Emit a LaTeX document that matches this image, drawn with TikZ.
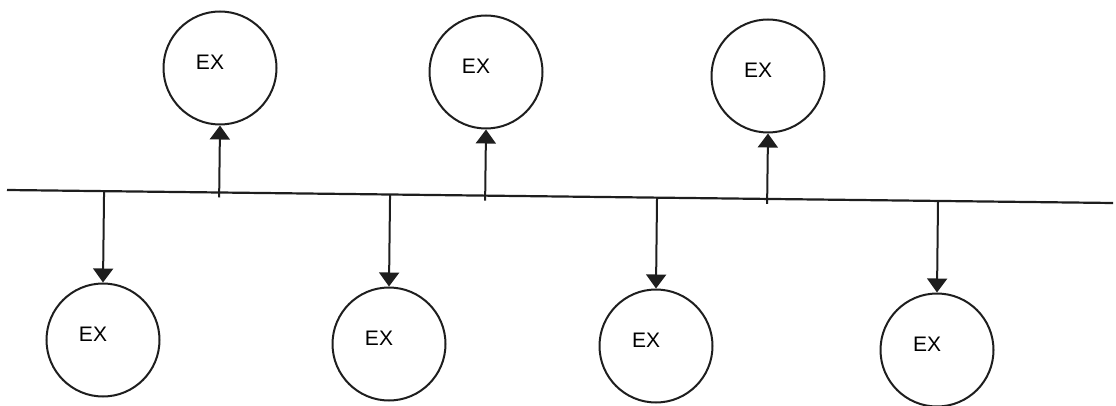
\documentclass[tikz,border=0pt]{standalone}
\usepackage{fontspec}
\setmainfont{Liberation Sans}
\usetikzlibrary{arrows.meta,positioning,calc}
\definecolor{inkdark}{RGB}{30,30,30}

\begin{document}
\begin{tikzpicture}[x=1pt,y=-1pt,font=\fontsize{21}{24}\selectfont,
 ex/.style={circle,draw=inkdark,line width=2pt,minimum size=113pt,inner sep=0pt,
  label={[xshift=-10pt,yshift=6pt,inner sep=0pt]center:EX}},
 bus/.style={draw=inkdark,line width=2.2pt},
 arr/.style={-{Triangle[length=14pt,width=20pt]},line width=2pt,draw=inkdark}]
\useasboundingbox (0,0) rectangle (1116,406);
\coordinate (busL) at (7,190);
\coordinate (busR) at (1113,203);
\draw[bus] (busL)--(busR);
\node[ex] (up1) at (220,68) {};
\node[ex] (up2) at (486,72) {};
\node[ex] (up3) at (768,76) {};
\node[ex] (down1) at (103,340) {};
\node[ex] (down2) at (389,344) {};
\node[ex] (down3) at (656,346) {};
\node[ex] (down4) at (937,350) {};
\draw[arr,shorten <=-5pt] ($(busL)!(up1.south)!(busR)$)--(up1.south);
\draw[arr,shorten <=-5pt] ($(busL)!(up2.south)!(busR)$)--(up2.south);
\draw[arr,shorten <=-5pt] ($(busL)!(up3.south)!(busR)$)--(up3.south);
\draw[arr] ($(busL)!(down1.north)!(busR)$)--(down1.north);
\draw[arr] ($(busL)!(down2.north)!(busR)$)--(down2.north);
\draw[arr] ($(busL)!(down3.north)!(busR)$)--(down3.north);
\draw[arr] ($(busL)!(down4.north)!(busR)$)--(down4.north);
\end{tikzpicture}
\end{document}
